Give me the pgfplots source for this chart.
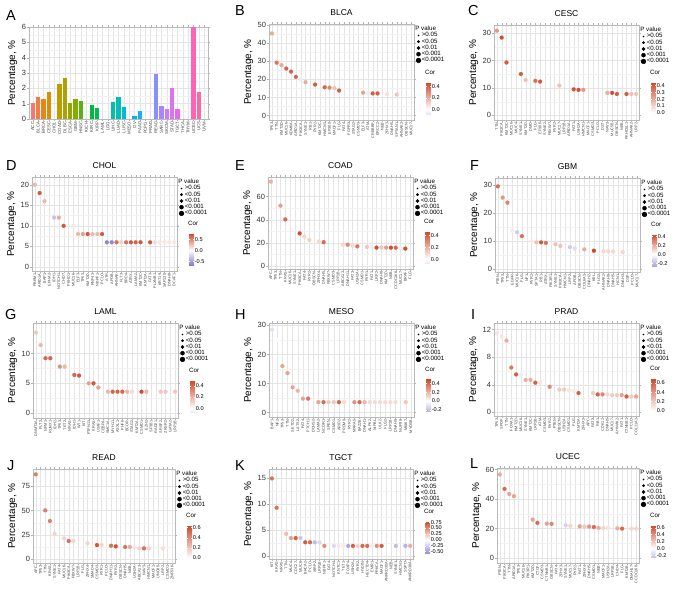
\documentclass[border=0pt]{standalone}
\usepackage{fontspec}
\setmainfont{Liberation Sans}
\usepackage{pgfplots}
\pgfplotsset{compat=1.18}

\definecolor{cpur}{RGB}{110,98,200}
\definecolor{cred}{RGB}{205,70,38}
\definecolor{A0}{HTML}{F8766D}
\definecolor{A1}{HTML}{DE8C00}
\definecolor{A2}{HTML}{B79F00}
\definecolor{A3}{HTML}{7CAE00}
\definecolor{A4}{HTML}{00BA38}
\definecolor{A5}{HTML}{00C08B}
\definecolor{A6}{HTML}{00BFC4}
\definecolor{A7}{HTML}{00B4F0}
\definecolor{A8}{HTML}{619CFF}
\definecolor{A9}{HTML}{C77CFF}
\definecolor{A10}{HTML}{F564E3}
\definecolor{A11}{HTML}{FF64B0}

\colorlet{loB}{cpur!21!white}
\colorlet{loC}{cpur!7!white}
\colorlet{loD}{cpur!90!white}
\colorlet{loE}{cpur!17!white}
\colorlet{loF}{cpur!62!white}
\colorlet{loG}{cpur!16!white}
\colorlet{loH}{cpur!50!white}
\colorlet{loK}{cpur!75!white}
\colorlet{loL}{cpur!41!white}

\pgfplotsset{
  colormap={cmB}{color(0pt)=(loB) color(10pt)=(white) color(58pt)=(cred)},
  colormap={cmC}{color(0pt)=(loC) color(3pt)=(white) color(48pt)=(cred)},
  colormap={cmD}{color(0pt)=(loD) color(70pt)=(white) color(148pt)=(cred)},
  colormap={cmE}{color(0pt)=(loE) color(8pt)=(white) color(55pt)=(cred)},
  colormap={cmF}{color(0pt)=(loF) color(28pt)=(white) color(73pt)=(cred)},
  colormap={cmG}{color(0pt)=(loG) color(8pt)=(white) color(58pt)=(cred)},
  colormap={cmH}{color(0pt)=(loH) color(25pt)=(white) color(75pt)=(cred)},
  colormap={cmI}{color(0pt)=(white) color(70pt)=(cred)},
  colormap={cmJ}{color(0pt)=(white) color(65pt)=(cred)},
  colormap={cmK}{color(0pt)=(loK) color(60pt)=(white) color(140pt)=(cred)},
  colormap={cmL}{color(0pt)=(loL) color(28pt)=(white) color(96pt)=(cred)},
  base/.style={
    scale only axis,
    axis line style={draw=gray!55, line width=0.4pt},
    tick style={gray!60, line width=0.3pt},
    tick align=outside, major tick length=1.8pt, minor tick length=0pt,
    grid=both,
    major grid style={gray!20, line width=0.35pt},
    minor grid style={gray!10, line width=0.25pt},
    minor y tick num=1,
    yticklabel style={font=\fontsize{7.5}{8}\selectfont, inner sep=1pt, text=black!80},
    ylabel={Percentage, \%},
    ylabel style={font=\fontsize{10}{10}\selectfont},
    /pgf/number format/assume math mode=true,
    xticklabel style={rotate=90, anchor=east, font=\fontsize{3.8}{4}\selectfont, inner sep=0.8pt, text=black!75},
    title style={font=\fontsize{8.5}{9}\selectfont, yshift=-1pt},
  },
  pleg/.style={legend image code/.code={\path[draw=none,fill=none] (0pt,-1pt) rectangle (5.6pt,1pt);\draw[##1] plot coordinates {(2.8pt,0pt)};}, only marks, mark=*, black, mark size=#1},
  dotp/.style={base, width=145pt, height=94pt, xmin=0.4, xmax=30.6, xtick={1,...,30},
    legend style={at={(1,1)}, anchor=north west, xshift=1.5pt, yshift=-1.5pt, draw=none, fill=none,
      font=\fontsize{6.2}{6.4}\selectfont, row sep=-0.6pt, inner sep=0pt, nodes={inner sep=0.5pt}},
    legend cell align=left,
    colorbar,
    colorbar style={at={(parent axis.south east)}, anchor=south west, xshift=3.5pt, yshift=5pt,
      width=5pt, height=33pt, scale only axis,
      title={Cor}, title style={font=\fontsize{6.2}{6.2}\selectfont, at={(0,1)}, anchor=south west, inner sep=0pt, yshift=1.5pt, xshift=-1pt},
      yticklabel style={font=\fontsize{5.6}{6}\selectfont, inner sep=0.6pt, /pgf/number format/.cd, fixed, fixed zerofill, precision=1, assume math mode=true},
      major tick length=1.2pt, tick style={draw=white, line width=0.3pt}, axis line style={draw=none}},
  },
  dots/.style={scatter, only marks, mark=*, point meta=\thisrow{c},
    visualization depends on={0.65+0.66*\thisrow{s} \as \ms},
    scatter/@pre marker code/.append style={/tikz/mark size=\ms},
    scatter/use mapped color={draw=mapped color, fill=mapped color},
    mark options={line width=0.1pt}, forget plot},
}

\newcommand{\pleg}{%
  \addlegendimage{empty legend}\addlegendentry{\hspace{-6.5pt}P value}
  \addlegendimage{pleg=0.5pt}\addlegendentry{>0.05}
  \addlegendimage{pleg=1.2pt}\addlegendentry{<0.05}
  \addlegendimage{pleg=1.6pt}\addlegendentry{<0.01}
  \addlegendimage{pleg=2.0pt}\addlegendentry{<0.001}
  \addlegendimage{pleg=2.4pt}\addlegendentry{<0.0001}
}
\newcommand{\plab}[3]{\node[anchor=north west, inner sep=0pt, font=\fontsize{14.5}{15}\selectfont] at (#1pt,#2pt) {#3};}

\begin{document}
\begin{tikzpicture}[x=1pt,y=1pt]
\useasboundingbox (0,0) rectangle (682,596);

% ---------------- A ----------------
\begin{axis}[base, at={(29pt,477pt)}, anchor=south west, width=179pt, height=92pt,
  ybar, bar shift=0pt, bar width=0.8,
  xmin=-0.7, xmax=32.7, ymin=0, ymax=6, ytick={0,...,6},
  xtick={0,...,32},
  xticklabels={ACC,BLCA,BRCA,CESC,CHOL,COAD,DLBC,ESCA,GBM,HNSC,KICH,KIRC,KIRP,LAML,LGG,LIHC,LUAD,LUSC,MESO,OV,PAAD,PCPG,PRAD,READ,SARC,SKCM,STAD,TGCT,THCA,THYM,UCEC,UCS,UVM},
  xticklabel style={font=\fontsize{4.3}{4.5}\selectfont}]
\addplot[fill=A0, draw=none] coordinates {(0,1.05)};
\addplot[fill=A0!64!A1, draw=none] coordinates {(1,1.45)};
\addplot[fill=A0!27!A1, draw=none] coordinates {(2,1.30)};
\addplot[fill=A1!91!A2, draw=none] coordinates {(3,1.75)};
\addplot[fill=A1!18!A2, draw=none] coordinates {(5,2.25)};
\addplot[fill=A2!82!A3, draw=none] coordinates {(6,2.70)};
\addplot[fill=A2!45!A3, draw=none] coordinates {(7,1.05)};
\addplot[fill=A2!9!A3, draw=none] coordinates {(8,1.28)};
\addplot[fill=A3!73!A4, draw=none] coordinates {(9,1.16)};
\addplot[fill=A4, draw=none] coordinates {(11,0.88)};
\addplot[fill=A4!64!A5, draw=none] coordinates {(12,0.70)};
\addplot[fill=A5!55!A6, draw=none] coordinates {(15,1.08)};
\addplot[fill=A5!18!A6, draw=none] coordinates {(16,1.42)};
\addplot[fill=A6!82!A7, draw=none] coordinates {(17,0.80)};
\addplot[fill=A6!9!A7, draw=none] coordinates {(19,0.22)};
\addplot[fill=A7!73!A8, draw=none] coordinates {(20,0.55)};
\addplot[fill=A8!64!A9, draw=none] coordinates {(23,2.95)};
\addplot[fill=A8!27!A9, draw=none] coordinates {(24,0.82)};
\addplot[fill=A9!91!A10, draw=none] coordinates {(25,0.62)};
\addplot[fill=A9!55!A10, draw=none] coordinates {(26,2.05)};
\addplot[fill=A9!18!A10, draw=none] coordinates {(27,0.68)};
\addplot[fill=A10!9!A11, draw=none] coordinates {(30,6.00)};
\addplot[fill=A11!73!A0, draw=none] coordinates {(31,1.75)};
\end{axis}

% ---------------- B ----------------
\begin{axis}[dotp, at={(269pt,476pt)}, anchor=south west, height=96pt, title={BLCA},
  ymin=-2.4, ymax=50.4, ytick={0,10,...,50},
  colormap name=cmB, point meta min=-0.1, point meta max=0.48,
  colorbar style={ytick={0,0.2,0.4}},
  xticklabels={TP53,TTN,KMT2D,MUC16,KDM6A,ARID1A,PIK3CA,SYNE1,RB1,RYR2,KMT2C,HMCN1,EP300,MACF1,FLG,FAT4,FGFR3,STAG2,CSMD3,ELF3,ATM,CREBBP,ERCC2,NEB,ZFHX3,DNAH5,SPTAN1,AHNAK2,OBSCN,MUC17}]
\addplot[dots] table {
x y c s
1 45.2 0.22 3
2 29.1 0.36 0
3 27.8 0.22 3
4 25.9 0.40 3
5 24.2 0.40 0
6 21.3 0.40 0
7 19.7 -0.06 2
8 18.4 0.22 3
10 17.1 0.42 3
12 15.6 0.40 3
13 15.4 0.32 3
14 15.1 0.16 3
15 13.8 0.42 0
20 12.6 0.25 3
21 12.4 -0.06 3
22 12.2 0.42 3
23 12.2 0.42 3
25 11.8 0.08 1
27 11.6 0.15 1
};
\pleg
\end{axis}

% ---------------- C ----------------
\begin{axis}[dotp, at={(494pt,476pt)}, anchor=south west, height=95pt, title={CESC},
  ymin=-1.7, ymax=33, ytick={0,10,20,30},
  colormap name=cmC, point meta min=-0.03, point meta max=0.45,
  colorbar style={ytick={0,0.1,0.2,0.3,0.4}},
  xticklabels={TTN,PIK3CA,KMT2C,MUC16,MUC4,SYNE1,KMT2D,DMD,FLG,EP300,SYNE2,FBXW7,RYR2,MUC17,LRP1B,ARID1A,FAT1,USH2A,HMCN1,MACF1,CSMD3,PCLO,DST,NAV3,MUC5B,OBSCN,NEB,PKHD1L1,AHNAK2,LRP2}]
\addplot[dots] table {
x y c s
1 30.9 0.25 3
2 28.4 0.42 4
3 19.3 0.40 0
6 15.1 0.40 0
7 12.9 0.15 2
9 12.6 0.35 0
10 12.3 0.40 4
14 10.9 0.15 2
17 9.5 0.42 3
18 9.3 0.42 3
19 9.3 0.25 3
24 8.2 0.20 2
25 8.2 0.42 3
26 7.8 0.40 0
28 7.8 0.40 0
29 7.8 0.15 2
30 7.8 0.15 2
};
\pleg
\end{axis}

% ---------------- D ----------------
\begin{axis}[dotp, at={(32pt,325pt)}, anchor=south west, height=94pt, title={CHOL},
  ymin=-1, ymax=21.9, ytick={0,5,...,20},
  colormap name=cmD, point meta min=-0.7, point meta max=0.78,
  colorbar style={ytick={-0.5,0,0.5}},
  xticklabels={PBRM1,ARID1A,BAP1,EPHA2,IDH1,NOTCH1,CHD7,PKHD1,MUC16,ELF3,TP53,KMT2D,RNF43,NBPF1,PCLO,ATR,APOB,AHNAK,FLT3,BRD4,ATRX,LAMA2,KMT2C,KMT2A,FAT3,PLXNB1,KRT19,SAP130,DNAH8,DCAF1}]
\addplot[dots] table {
x y c s
1 20.0 0.30 2
2 18.0 0.70 4
3 16.0 0.30 0
5 12.0 -0.30 0
6 12.0 0.35 2
7 10.0 0.70 4
9 10.0 0.10 0
10 8.0 0.30 2
11 8.0 0.40 2
12 8.0 0.70 4
13 8.0 0.30 2
14 8.0 0.30 2
15 8.0 0.70 4
16 6.0 -0.60 4
17 6.0 -0.60 4
18 6.0 0.60 3
19 6.0 0.20 0
20 6.0 0.60 0
21 6.0 0.70 4
22 6.0 0.65 4
23 6.0 0.70 4
25 6.0 0.70 4
26 6.0 0.15 0
27 6.0 0.10 0
28 6.0 0.10 0
29 6.0 0.10 0
30 6.0 0.10 0
};
\pleg
\end{axis}

% ---------------- E ----------------
\begin{axis}[dotp, at={(268pt,327pt)}, anchor=south west, height=92pt, title={COAD},
  ymin=-2.6, ymax=77, ytick={0,20,40,60},
  colormap name=cmE, point meta min=-0.08, point meta max=0.47,
  colorbar style={ytick={0,0.2,0.4}},
  xticklabels={APC,TP53,TTN,KRAS,MUC16,SYNE1,PIK3CA,FAT4,RYR2,OBSCN,ZFHX4,DNAH5,FBXW7,CSMD3,LRP1B,ABCA13,DNAH11,FAT3,USH2A,CSMD1,RYR1,FAT1,LRP2,DNAH8,KMT2D,NEB,CCDC168,MUC17,BRAF,FLG}]
\addplot[dots] table {
x y c s
1 73.0 0.20 3
3 52.2 0.25 3
4 40.3 0.38 3
7 28.2 0.45 0
8 25.4 0.10 1
9 22.5 0.12 2
11 21.3 0.10 2
12 20.6 0.38 3
16 18.4 0.10 2
17 18.4 0.30 3
18 17.6 0.10 1
19 17.0 0.35 3
21 16.5 0.15 3
22 16.4 -0.06 3
23 15.9 0.45 0
24 16.0 0.15 3
25 15.9 0.25 3
26 15.8 0.45 0
27 15.8 0.38 3
28 15.3 0.05 1
29 15.0 0.45 0
};
\pleg
\end{axis}

% ---------------- F ----------------
\begin{axis}[dotp, at={(495pt,324pt)}, anchor=south west, height=94pt, title={GBM},
  ymin=-1, ymax=32.6, ytick={0,10,20,30},
  colormap name=cmF, point meta min=-0.28, point meta max=0.45,
  colorbar style={ytick={-0.2,0,0.2,0.4}},
  xticklabels={PTEN,TP53,TTN,EGFR,MUC16,FLG,NF1,RYR2,SPTA1,RB1,ATRX,PIK3R1,SYNE1,PIK3CA,HMCN1,LRP2,APOB,OBSCN,COL6A3,DNAH2,KEL,FLG2,AHNAK2,DNAH8,DNAH5,HCN1,DNAH3,DSP,PCLO,MUC17}]
\addplot[dots] table {
x y c s
1 29.6 0.35 3
2 25.6 0.25 3
3 23.8 0.30 3
4 13.7 0.05 0
5 13.2 -0.15 1
6 11.8 0.35 3
8 10.0 0.05 0
9 9.6 0.15 2
10 9.6 0.40 4
11 9.4 0.35 3
13 8.9 0.15 2
14 8.3 0.15 2
16 7.9 -0.15 2
17 7.4 -0.10 0
19 7.1 0.20 0
21 6.6 0.45 4
23 6.4 0.10 0
24 6.4 0.10 0
25 6.3 0.10 0
27 6.1 0.10 0
};
\pleg
\end{axis}

% ---------------- G ----------------
\begin{axis}[dotp, at={(33pt,178pt)}, anchor=south west, height=95pt, title={LAML},
  ymin=-0.8, ymax=15.1, ytick={0,5,10},
  colormap name=cmG, point meta min=-0.08, point meta max=0.5,
  colorbar style={ytick={0,0.2,0.4}},
  xticklabels={DNMT3A,FLT3,NPM1,RUNX1,IDH2,TP53,TET2,NRAS,IDH1,WT1,KIT,PTPN11,KRAS,U2AF1,CEBPA,SMC1A,MYH11,ASXL1,PHF6,BCOR,STAG2,KMT2A,CSMD1,EZH2,SF3B1,RAD21,SRSF2,ZRSR2,GATA2,LRP1B}]
\addplot[dots] table {
x y c s
1 13.5 0.15 1
2 11.4 0.20 2
3 9.2 0.42 4
4 9.2 0.42 4
6 7.8 0.30 3
7 7.8 0.20 0
9 6.4 0.42 4
10 6.3 0.45 0
12 5.0 0.25 2
13 5.0 0.45 0
14 4.3 0.25 2
16 3.6 0.20 0
17 3.6 0.42 4
18 3.6 0.42 4
19 3.6 0.42 4
20 3.6 0.20 2
21 3.6 0.10 0
23 3.6 0.48 0
24 3.6 0.20 0
27 3.6 0.15 0
28 3.6 0.15 0
30 3.6 0.15 0
};
\pleg
\end{axis}

% ---------------- H ----------------
\begin{axis}[dotp, at={(269pt,179pt)}, anchor=south west, height=94pt, title={MESO},
  xmax=28.6, xtick={1,...,28},
  ymin=-1.5, ymax=30.8, ytick={0,10,20,30},
  colormap name=cmH, point meta min=-0.25, point meta max=0.5,
  colorbar style={ytick={-0.2,0,0.2,0.4}},
  xticklabels={BAP1,NF2,TP53,TTN,SETD2,LATS2,FAT4,PTCH1,DCHS2,LAMA2,NCOR1,SPEN,CSMD1,ARID2,PRDM9,RYR2,MXRA5,BAZ2B,DNAH1,ALPK2,NIPBL,ULK2,FLG2,LRP1B,DNAH9,NUP98,MKI67,MYO5B}]
\addplot[dots] table {
x y c s
1 28.5 -0.10 0
2 25.0 0.00 0
3 16.0 0.25 2
4 13.6 0.25 2
5 8.7 0.25 2
6 7.5 0.20 1
7 4.8 0.25 2
8 4.8 0.38 3
10 3.6 0.25 3
11 3.6 0.40 4
12 3.6 0.15 1
13 3.6 0.15 1
14 3.6 0.42 4
15 3.6 0.10 0
17 3.6 0.30 3
18 3.6 0.40 4
19 3.6 0.20 1
20 3.6 0.10 0
21 3.6 0.10 0
22 3.6 0.10 0
23 3.6 0.10 0
24 3.6 0.10 0
25 3.6 0.10 0
27 3.6 0.15 1
};
\pleg
\end{axis}

% ---------------- I ----------------
\begin{axis}[dotp, at={(494pt,180pt)}, anchor=south west, height=93pt, title={PRAD},
  ymin=-0.53, ymax=12.96, ytick={0,4,8,12},
  colormap name=cmI, point meta min=0, point meta max=0.7,
  colorbar style={ytick={0,0.2,0.4,0.6}},
  xticklabels={TP53,SPOP,TTN,FOXA1,KMT2D,MUC16,SYNE1,KMT2C,LRP1B,ATM,CSMD3,RYR2,PTEN,OBSCN,USH2A,CSMD1,FLG,KMT2A,ZFHX3,APC,FAT3,RB1,CDK12,DNAH5,MUC17,AHNAK2,FAT1,CTNNB1,PCLO,COL11A1}]
\addplot[dots] table {
x y c s
1 11.5 0.10 2
2 11.0 0.10 1
3 10.4 0.30 3
4 6.5 0.50 3
5 5.5 0.60 0
6 5.4 0.08 1
7 4.7 0.30 3
8 4.7 0.30 3
9 4.3 0.60 0
10 4.3 0.10 1
12 3.7 0.45 3
14 3.3 0.20 3
15 3.3 0.20 3
16 3.2 0.10 2
17 3.1 0.08 1
18 2.8 0.60 0
21 2.8 0.20 3
22 2.6 0.60 0
23 2.6 0.45 3
24 2.6 0.15 2
25 2.5 0.20 0
26 2.5 0.20 0
27 2.5 0.35 3
28 2.3 0.60 0
29 2.3 0.20 0
30 2.3 0.35 3
};
\pleg
\end{axis}

% ---------------- J ----------------
\begin{axis}[dotp, at={(33pt,33pt)}, anchor=south west, width=142pt, height=94pt, title={READ},
  ymin=-4.1, ymax=92.8, ytick={0,25,50,75},
  colormap name=cmJ, point meta min=0, point meta max=0.65,
  colorbar style={ytick={0,0.2,0.4,0.6}},
  xticklabels={APC,TP53,TTN,KRAS,SYNE1,FAT4,MUC16,PIK3CA,FBXW7,LRP1B,FLG,ZFHX4,SMAD4,CSMD3,RYR1,PCLO,DNAH11,RYR2,OBSCN,DNAH5,NEB,USH2A,ABCA13,NAV3,HMCN1,MACF1,UNC80,LRP2,CSMD1,ZNF536}]
\addplot[dots] table {
x y c s
1 87.3 0.45 3
3 50.2 0.45 3
4 39.2 0.45 3
5 26.1 0.15 2
7 21.3 0.15 2
8 18.6 0.50 4
9 18.6 0.15 2
12 16.2 0.15 2
14 14.4 0.60 0
15 14.4 0.15 1
17 13.7 0.50 4
18 13.1 0.60 0
20 12.4 0.50 3
21 12.4 0.30 3
22 11.7 0.10 1
23 11.0 0.15 2
24 11.0 0.50 4
25 11.0 0.15 1
28 11.0 0.12 1
};
\pleg
\end{axis}

% ---------------- K ----------------
\begin{axis}[dotp, at={(269pt,37pt)}, anchor=south west, width=144pt, height=90pt, title={TGCT},
  ymin=-0.5, ymax=16.7, ytick={0,5,10,15},
  colormap name=cmK, point meta min=-0.6, point meta max=0.8,
  colorbar style={ytick={-0.5,-0.25,0,0.25,0.5,0.75}, yticklabel style={/pgf/number format/precision=2}},
  xticklabels={KIT,KRAS,NRAS,TTN,MUC4,CDC27,MUC6,BRCA2,PCLO,XIRP2,LRP1B,NBPF1,FAT4,NOTCH4,KNTC1,TET1,FOXP4,USH2A,RYR2,HYDIN,HECTD4,EMR1,PRKCA,MACF1,ANKRD30A,NEB,SYNE1,HMCN1,SSPO,ANKRD36A}]
\addplot[dots] table {
x y c s
1 14.9 0.60 3
2 9.3 0.60 3
4 4.3 0.30 2
5 3.5 0.40 2
6 3.5 0.70 0
7 3.5 -0.30 1
8 2.7 0.70 0
9 2.7 0.65 3
10 2.7 -0.35 3
11 2.7 -0.20 2
12 2.0 0.50 3
14 2.0 -0.20 1
15 2.0 0.10 0
16 2.0 0.10 0
17 2.0 -0.45 3
18 2.0 0.70 0
19 2.0 0.20 0
20 2.0 0.65 3
21 2.0 0.65 3
22 2.0 -0.10 0
23 2.0 0.50 3
24 2.0 0.70 0
27 2.0 -0.35 2
29 2.0 -0.40 3
30 2.0 0.35 2
};
\pleg
\end{axis}

% ---------------- L ----------------
\begin{axis}[dotp, at={(497pt,33pt)}, anchor=south west, width=142pt, height=95pt, title={UCEC},
  ymin=-3.4, ymax=61, ytick={0,20,40,60},
  colormap name=cmL, point meta min=-0.28, point meta max=0.68,
  colorbar style={ytick={-0.2,0,0.2,0.4,0.6}},
  xticklabels={PTEN,PIK3CA,TTN,ARID1A,TP53,MUC16,PIK3R1,KMT2D,CTCF,CSMD3,CTNNB1,OBSCN,FAT4,ZFHX3,SYNE1,MUC17,RYR2,FAT1,ZFHX4,DNAH5,CSMD1,NEB,MACF1,USH2A,LRP1B,CHD4,FLG,KMT2B,DNAH17,CCDC168}]
\addplot[dots] table {
x y c s
1 56.6 0.30 3
2 46.8 0.55 0
3 43.4 0.35 3
4 41.9 0.35 3
8 26.0 0.35 3
9 23.8 0.55 0
11 23.3 0.35 3
12 23.1 0.45 3
15 22.2 -0.20 3
16 21.9 0.15 2
18 21.5 0.35 3
19 21.3 0.20 3
20 21.3 0.40 3
21 21.0 0.55 0
22 20.4 0.30 3
23 20.4 0.15 2
24 20.4 0.10 1
26 20.1 0.30 3
27 19.9 0.55 0
29 19.9 0.15 2
30 19.9 0.15 3
};
\pleg
\end{axis}

\plab{6}{586}{A}
\plab{235}{591}{B}
\plab{468}{591}{C}
\plab{6}{436}{D}
\plab{235}{436}{E}
\plab{470}{436}{F}
\plab{5}{287}{G}
\plab{235}{287}{H}
\plab{471}{287}{I}
\plab{7}{136}{J}
\plab{235}{136}{K}
\plab{470}{138}{L}
\end{tikzpicture}
\end{document}
